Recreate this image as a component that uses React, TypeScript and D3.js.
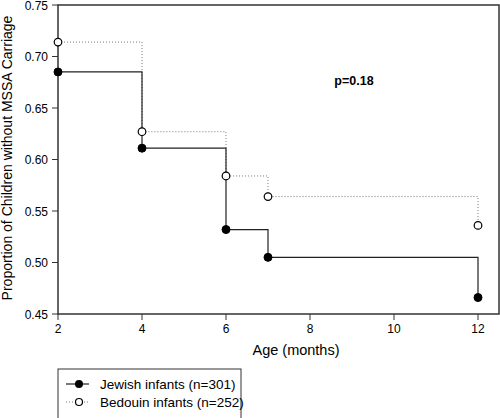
import React from "react";
import * as d3 from "d3";

const months = [2, 4, 6, 7, 12];
const jewish = [0.685, 0.611, 0.532, 0.505, 0.466];
const bedouin = [0.714, 0.627, 0.584, 0.564, 0.536];
const xTicks = [2, 4, 6, 8, 10, 12];
const yTicks = [0.45, 0.5, 0.55, 0.6, 0.65, 0.7, 0.75];
const seriesNames = ["Jewish infants (n=301)", "Bedouin infants (n=252)"];

const W = 500, H = 418;
const L = 58, R = 499, T = 5, B = 314;
const FONT = "Liberation Sans, Arial, sans-serif";

function stepPath(xs: number[], ys: number[], x: any, y: any) {
  let d = `M${x(xs[0])},${y(ys[0])}`;
  for (let i = 1; i < xs.length; i++) {
    d += `H${x(xs[i])}V${y(ys[i])}`;
  }
  return d;
}

export default function App() {
  const x = d3.scaleLinear().domain([2, 12.5]).range([L, R]);
  const y = d3.scaleLinear().domain([0.45, 0.75]).range([B, T]);
  const stroke = "#333";
  return (
    <svg width={W} height={H} style={{ position: "absolute", left: 0, top: 0, background: "#fff" }} fontFamily={FONT}>
      <rect x={0} y={0} width={W} height={H} fill="#fff" />
      {/* frame */}
      <rect x={L} y={T} width={R - L} height={B - T} fill="none" stroke={stroke} strokeWidth={1.5} />
      {/* x ticks */}
      {xTicks.map((t) => (
        <g key={"x" + t}>
          <line x1={x(t)} x2={x(t)} y1={B} y2={B + 6} stroke={stroke} strokeWidth={1} />
          <text x={x(t)} y={B + 19} fontSize={12} textAnchor="middle" fill="#000">{t}</text>
        </g>
      ))}
      {yTicks.map((t) => (
        <g key={"y" + t}>
          <line x1={L - 6} x2={L} y1={y(t)} y2={y(t)} stroke={stroke} strokeWidth={1} />
          <text x={L - 10} y={y(t) + 4.5} fontSize={12} textAnchor="end" fill="#000">{t.toFixed(2)}</text>
        </g>
      ))}
      <text x={296} y={355} fontSize={14.5} textAnchor="middle" fill="#000">Age (months)</text>
      <text transform={`translate(12,158) rotate(-90)`} fontSize={14} textAnchor="middle" fill="#000">
        Proportion of Children without MSSA Carriage
      </text>
      <text x={354} y={85} fontSize={12.5} fontWeight="bold" textAnchor="middle" fill="#000">p=0.18</text>
      {/* series */}
      <path d={stepPath(months, bedouin, x, y)} fill="none" stroke="#777" strokeWidth={1} strokeDasharray="1,2" />
      <path d={stepPath(months, jewish, x, y)} fill="none" stroke="#222" strokeWidth={1.2} />
      {months.map((m, i) => (
        <circle key={"j" + m} cx={x(m)} cy={y(jewish[i])} r={4} fill="#000" stroke="#000" />
      ))}
      {months.map((m, i) => (
        <circle key={"b" + m} cx={x(m)} cy={y(bedouin[i])} r={3.8} fill="#fff" stroke="#000" strokeWidth={1.2} />
      ))}
      {/* legend */}
      <rect x={58} y={369} width={183} height={52} fill="#fff" stroke={stroke} strokeWidth={1} />
      <line x1={66} x2={89} y1={384} y2={384} stroke="#222" strokeWidth={1.2} />
      <circle cx={79} cy={384} r={4} fill="#000" />
      <text x={100} y={389} fontSize={13.5} fill="#000">{seriesNames[0]}</text>
      <line x1={66} x2={89} y1={402} y2={402} stroke="#777" strokeWidth={1} strokeDasharray="1,2" />
      <circle cx={79} cy={402} r={3.5} fill="#fff" stroke="#000" strokeWidth={1.2} />
      <text x={100} y={407} fontSize={13.5} fill="#000">{seriesNames[1]}</text>
    </svg>
  );
}
